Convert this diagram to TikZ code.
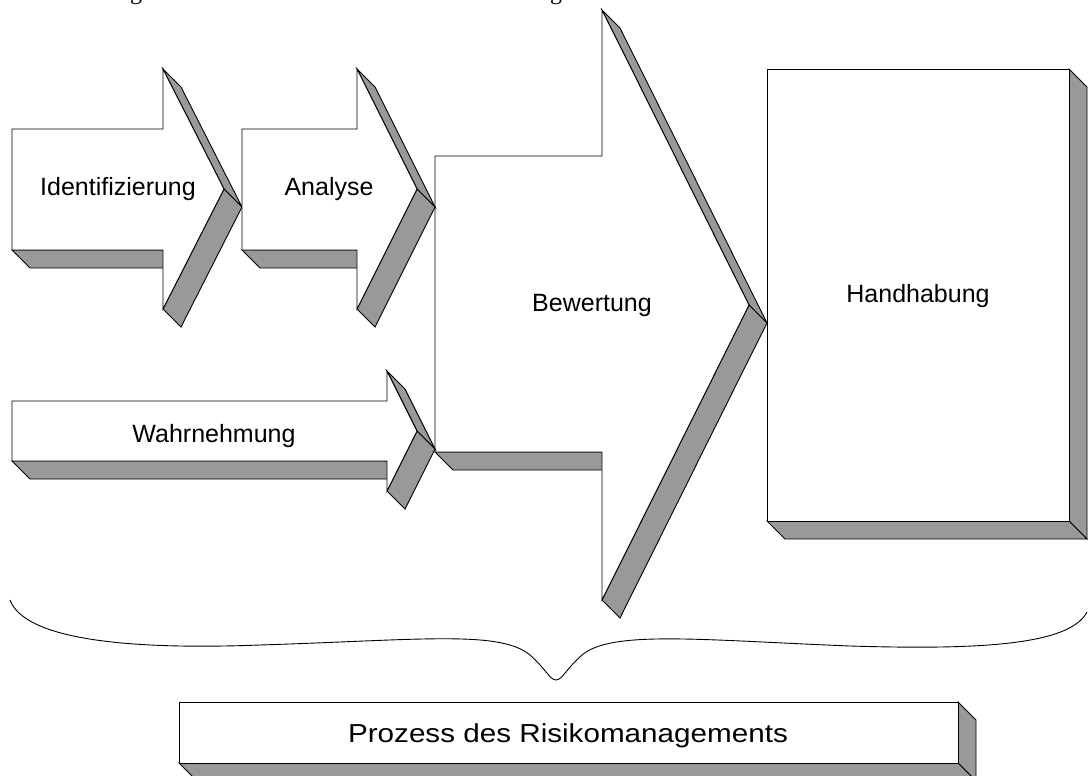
\documentclass[tikz,border=0pt]{standalone}
\usepackage{fontspec}
\setmainfont{Liberation Sans}
\newfontfamily\captionserif{Liberation Serif}
\usepackage{graphicx}
\definecolor{sidegray}{RGB}{153,153,153}

% Extruded block arrow: L, T (body top), B (body bottom), H (head x),
% HT (head top), HB (head bottom), P (tip x), M (tip y); depth 18 down-right
\newcommand{\extarrow}[8]{%
  \filldraw[side] (#1,#3) -- (#4,#3) -- ({#4+18},{#3+18}) -- ({#1+18},{#3+18}) -- cycle;
  \filldraw[side] (#4,#5) -- ({#4+18},{#5+18}) -- ({#7+18},{#8+18}) -- (#7,#8) -- cycle;
  \filldraw[side] (#7,#8) -- ({#7+18},{#8+18}) -- ({#4+18},{#6+18}) -- (#4,#6) -- cycle;
  \filldraw[face] (#1,#2) -- (#4,#2) -- (#4,#5) -- (#7,#8) -- (#4,#6) -- (#4,#3) -- (#1,#3) -- cycle;
}
% Extruded box: left, top, right, bottom
\newcommand{\extbox}[4]{%
  \filldraw[side] (#3,#2) -- ({#3+18},{#2+18}) -- ({#3+18},{#4+18}) -- (#3,#4) -- cycle;
  \filldraw[side] (#1,#4) -- (#3,#4) -- ({#3+18},{#4+18}) -- ({#1+18},{#4+18}) -- cycle;
  \filldraw[face] (#1,#2) rectangle (#3,#4);
}

\begin{document}
\begin{tikzpicture}[x=1pt,y=-1pt,
  face/.style={draw=black, line width=0.9pt, fill=white, line join=miter},
  side/.style={draw=black, line width=0.9pt, fill=sidegray, line join=miter},
  lbl/.style={font=\fontsize{25}{30}\selectfont, anchor=base, inner sep=0pt},
  bracestroke/.style={draw=black, line width=0.9pt}]
\useasboundingbox (0,0) rectangle (1088,776);

% descenders of the caption line above
\begin{scope}
  \clip (0,0) rectangle (1088,776);
  \node[font=\captionserif\fontsize{24}{28}\selectfont, anchor=base, inner sep=0pt] (capg1) at (136,0) {g};
  \node[font=\captionserif\fontsize{24}{28}\selectfont, anchor=base, inner sep=0pt] (capg2) at (556,0) {g};
\end{scope}

% process steps
\extarrow{435}{156}{452}{602}{10}{600}{749}{305}
\extarrow{12}{129}{250}{163}{69}{309}{224}{189}
\extarrow{242}{129}{250}{357}{69}{309}{417}{189}
\extarrow{12}{401}{461}{387}{371}{491}{417}{431}
\extbox{767}{69}{1069}{521}

\node[lbl] (ident) at (118,195) {Identifizierung};
\node[lbl] (analyse) at (329,195) {Analyse};
\node[lbl] (wahr) at (214,442) {Wahrnehmung};
\node[lbl] (bewert) at (592,311) {Bewertung};
\node[lbl] (hand) at (918,302) {Handhabung};

% brace spanning the whole process
\draw[bracestroke] (10,600) .. controls (25,640) and (130,650) .. (260,645)
  .. controls (420,640) and (500,630) .. (530,655)
  .. controls (545,668) and (550,680) .. (556,680)
  .. controls (562,680) and (567,668) .. (582,655)
  .. controls (612,630) and (700,640) .. (850,646)
  .. controls (980,650) and (1070,645) .. (1087,612);

% caption box
\extbox{179}{702}{958}{763}
\node[lbl] (prozess) at (568,742) {\scalebox{1.14}[1]{\fontsize{26}{30}\selectfont Prozess des Risikomanagements}};
\end{tikzpicture}
\end{document}
